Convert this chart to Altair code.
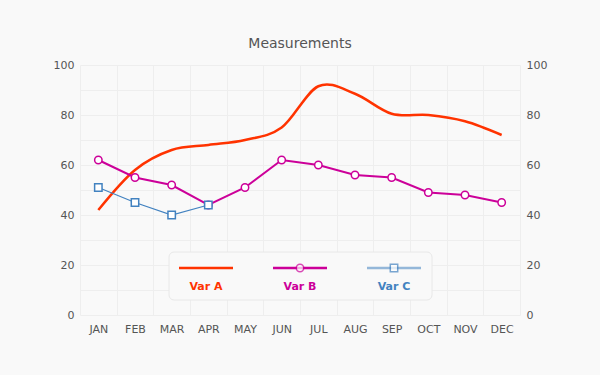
import altair as alt
import pandas as pd
import jinja2

months = ["JAN", "FEB", "MAR", "APR", "MAY", "JUN", "JUL", "AUG", "SEP", "OCT", "NOV", "DEC"]
var_a = [42, 58, 66, 68, 70, 75, 91.5, 88.5, 80.5, 80, 77.5, 72]
var_b = [62, 55, 52, 44, 51, 62, 60, 56, 55, 49, 48, 45]
var_c = [51, 45, 40, 44, None, None, None, None, None, None, None, None]
series = ["Var A", "Var B", "Var C"]
colors = ["#ff3300", "#cc0099", "#4282c0"]

FONT = "DejaVu Sans"
BG = "#f9f9f9"

df_a = pd.DataFrame({"month": months, "value": var_a})
df_b = pd.DataFrame({"month": months, "value": var_b})
df_c = pd.DataFrame({"month": months, "value": var_c}).dropna()
df_leg = pd.DataFrame({"name": series, "i": [0, 1, 2], "color": colors})

xscale = alt.Scale(type="band", domain=months, paddingInner=0, paddingOuter=0)
yscale = alt.Scale(domain=[0, 100], nice=False)
yvals = list(range(0, 101, 10))

xaxis = alt.Axis(tickBand="extent", domain=False, ticks=False, labelPadding=8,
                 labelAngle=0, labelFont=FONT, labelFontSize=11, labelColor="#555",
                 gridColor="#eeeeee", grid=True, title=None)


def xenc():
    return alt.X("month:N", scale=xscale, bandPosition=0.5, title=None, axis=xaxis)


left_axis = alt.Axis(values=yvals, labelExpr="datum.value % 20 == 0 ? datum.label : ''",
                     domain=False, ticks=False, labelPadding=6, labelFont=FONT,
                     labelFontSize=11, labelColor="#555", gridColor="#eeeeee", title=None)
right_axis = alt.Axis(orient="right", values=yvals,
                      labelExpr="datum.value % 20 == 0 ? datum.label : ''",
                      domain=False, ticks=False, labelPadding=6, labelFont=FONT,
                      labelFontSize=11, labelColor="#555", grid=False, title=None)

line_a = alt.Chart(df_a).mark_line(color=colors[0], strokeWidth=2.5, interpolate="cardinal").encode(
    x=xenc(), y=alt.Y("value:Q", scale=yscale, axis=left_axis))

line_b = alt.Chart(df_b).mark_line(color=colors[1], strokeWidth=2,
    point=alt.OverlayMarkDef(filled=True, fill="white", stroke=colors[1], strokeWidth=1.5, size=55)).encode(
    x=xenc(), y=alt.Y("value:Q", scale=yscale, axis=right_axis))

line_c = alt.Chart(df_c).mark_line(color=colors[2], strokeWidth=1.2,
    point=alt.OverlayMarkDef(filled=True, fill="white", stroke=colors[2], strokeWidth=1.5,
                             shape="square", size=55)).encode(
    x=xenc(), y=alt.Y("value:Q", scale=yscale, axis=None))

# legend (decoration, pixel positions relative to plot area)
leg_box = alt.Chart(pd.DataFrame({"k": [0]})).mark_rect(
    fill="#f9f9f9", stroke="#e8e8e8", strokeWidth=1, cornerRadius=5).encode(
    x=alt.value(89), x2=alt.value(352), y=alt.value(187), y2=alt.value(235))

leg_base = alt.Chart(df_leg).transform_calculate(
    cx="126 + 94 * datum.i", x1="99 + 94 * datum.i", x2="153 + 94 * datum.i",
    ly="203", ty="222")

leg_lines = leg_base.mark_rule(strokeWidth=2.5).encode(
    x=alt.X("x1:Q", scale=None, axis=None), x2="x2:Q",
    y=alt.Y("ly:Q", scale=None, axis=None),
    color=alt.Color("color:N", scale=None, legend=None),
    opacity=alt.condition("datum.i == 2", alt.value(0.55), alt.value(1)))

leg_points = leg_base.transform_filter("datum.i > 0").mark_point(
    filled=True, fill="white", strokeWidth=1.5, size=55).encode(
    x=alt.X("cx:Q", scale=None, axis=None),
    y=alt.Y("ly:Q", scale=None, axis=None),
    stroke=alt.Stroke("color:N", scale=None, legend=None),
    shape=alt.Shape("i:N", scale=alt.Scale(domain=[1, 2], range=["circle", "square"]), legend=None))

leg_text = leg_base.mark_text(font=FONT, fontSize=11, fontWeight="bold", baseline="middle").encode(
    x=alt.X("cx:Q", scale=None, axis=None),
    y=alt.Y("ty:Q", scale=None, axis=None),
    text="name:N",
    color=alt.Color("color:N", scale=None, legend=None))

chart = alt.layer(line_a, line_b, line_c, leg_box, leg_lines, leg_points, leg_text).resolve_axis(
    y="independent").properties(
    width=440, height=250,
    background=BG,
    padding={"left": 72, "top": 57, "right": 72, "bottom": 52},
    autosize=alt.AutoSizeParams(type="none"),
    title=alt.TitleParams("Measurements", font=FONT, fontSize=14, fontWeight="normal",
                          color="#555", offset=8, anchor="middle"),
).configure_view(stroke=None, fill=BG)

page = jinja2.Template("""<!DOCTYPE html>
<html>
<head>
<style>body { background: #f9f9f9; }</style>
<script type="text/javascript" src="{{ base_url }}/vega@{{ vega_version }}"></script>
<script type="text/javascript" src="{{ base_url }}/vega-lite@{{ vegalite_version }}"></script>
<script type="text/javascript" src="{{ base_url }}/vega-embed@{{ vegaembed_version }}"></script>
</head>
<body>
<div id="{{ output_div }}"></div>
<script type="text/javascript">
  (function(vegaEmbed) {
    var spec = {{ spec }};
    var embedOpt = {{ embed_options }};
    vegaEmbed("#{{ output_div }}", spec, embedOpt).catch(console.error);
  })(vegaEmbed);
</script>
</body>
</html>
""")

chart.save("out.html", embed_options={"renderer": "svg", "actions": False}, template=page)
